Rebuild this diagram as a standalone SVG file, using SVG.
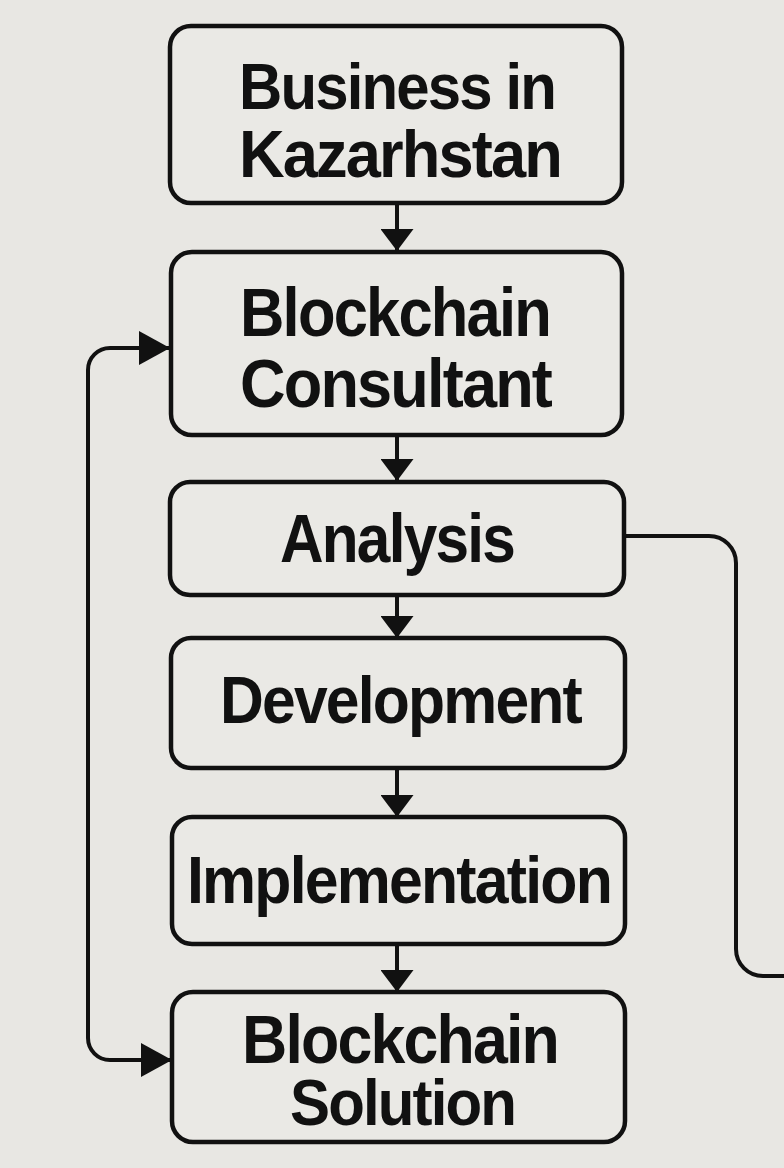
<svg xmlns="http://www.w3.org/2000/svg" width="784" height="1168" viewBox="0 0 784 1168">
  <style>
    .box { fill: #eae9e5; stroke: #111; stroke-width: 4.5; }
    .lbl { font-family: "Liberation Sans", Arial, sans-serif; font-weight: 700; fill: #111; letter-spacing: -2px; }
    .conn { fill: none; stroke: #111; stroke-width: 4; }
  </style>
  <defs>
    <marker id="headD" viewBox="0 0 22 33" refX="22" refY="16.5" markerWidth="22" markerHeight="33" markerUnits="userSpaceOnUse" orient="auto">
      <path d="M0,0 L22,16.5 L0,33 Z" fill="#111"/>
    </marker>
    <marker id="headL" viewBox="0 0 31 34" refX="31" refY="17" markerWidth="31" markerHeight="34" markerUnits="userSpaceOnUse" orient="auto-start-reverse">
      <path d="M0,0 L31,17 L0,34 Z" fill="#111"/>
    </marker>
  </defs>
  <rect width="784" height="1168" fill="#e8e7e3"/>

  <g id="connectors">
    <path class="conn" d="M397,203 V251" marker-end="url(#headD)"/>
    <path class="conn" d="M397,435 V481" marker-end="url(#headD)"/>
    <path class="conn" d="M397,595 V638" marker-end="url(#headD)"/>
    <path class="conn" d="M397,768 V817" marker-end="url(#headD)"/>
    <path class="conn" d="M397,944 V992" marker-end="url(#headD)"/>
    <path class="conn" d="M170,348 H110 A22,22 0 0 0 88,370 V1038 A22,22 0 0 0 110,1060 H172" marker-start="url(#headL)" marker-end="url(#headL)"/>
    <path class="conn" d="M624,536 H709 A27,27 0 0 1 736,563 V949 A27,27 0 0 0 763,976 H790"/>
  </g>

  <g id="node-business">
    <rect class="box" x="170" y="26" width="452" height="177" rx="21"/>
    <text class="lbl" font-size="65"><tspan x="239" y="109" textLength="316" lengthAdjust="spacingAndGlyphs">Business in</tspan><tspan x="239" y="177" font-size="67" textLength="322" lengthAdjust="spacingAndGlyphs">Kazarhstan</tspan></text>
  </g>

  <g id="node-consultant">
    <rect class="box" x="171" y="252" width="451" height="183" rx="21"/>
    <text class="lbl" font-size="68"><tspan x="240" y="336" textLength="310" lengthAdjust="spacingAndGlyphs">Blockchain</tspan><tspan x="240" y="407" font-size="69" textLength="311" lengthAdjust="spacingAndGlyphs">Consultant</tspan></text>
  </g>

  <g id="node-analysis">
    <rect class="box" x="170" y="482" width="454" height="113" rx="20"/>
    <text class="lbl" font-size="69" x="280" y="562" textLength="234" lengthAdjust="spacingAndGlyphs">Analysis</text>
  </g>

  <g id="node-development">
    <rect class="box" x="171" y="638" width="454" height="130" rx="20"/>
    <text class="lbl" font-size="67" x="220" y="723" textLength="361" lengthAdjust="spacingAndGlyphs">Development</text>
  </g>

  <g id="node-implementation">
    <rect class="box" x="172" y="817" width="453" height="127" rx="20"/>
    <text class="lbl" font-size="67" x="187" y="903" textLength="424" lengthAdjust="spacingAndGlyphs">Implementation</text>
  </g>

  <g id="node-solution">
    <rect class="box" x="172" y="992" width="453" height="150" rx="21"/>
    <text class="lbl" font-size="69"><tspan x="242" y="1063" textLength="316" lengthAdjust="spacingAndGlyphs">Blockchain</tspan><tspan x="290" y="1125" font-size="64" textLength="225" lengthAdjust="spacingAndGlyphs">Solution</tspan></text>
  </g>
</svg>
